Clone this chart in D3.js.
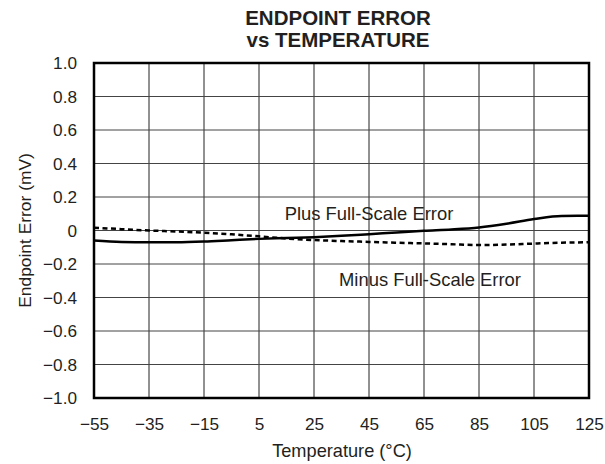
<!DOCTYPE html>
<html><head><meta charset="utf-8">
<script src="https://cdn.jsdelivr.net/npm/d3@7"></script>
<style>body{margin:0;background:#fff}svg{display:block}text{font-family:"Liberation Sans",Arial,sans-serif;fill:#231f20}</style>
</head><body>
<script>
const temps = [-55,-45,-35,-25,-15,-5,5,15,25,35,45,55,65,75,85,95,105,115,125];
const plusErr =  [-0.06,-0.068,-0.07,-0.07,-0.066,-0.058,-0.05,-0.045,-0.04,-0.032,-0.022,-0.012,-0.002,0.006,0.018,0.04,0.068,0.087,0.088];
const minusErr = [0.017,0.008,0.0,-0.006,-0.013,-0.023,-0.035,-0.048,-0.057,-0.063,-0.068,-0.073,-0.077,-0.082,-0.087,-0.084,-0.078,-0.073,-0.07];
const xTicks = [-55,-35,-15,5,25,45,65,85,105,125];
const yTicks = [1.0,0.8,0.6,0.4,0.2,0,-0.2,-0.4,-0.6,-0.8,-1.0];

const W=605,H=464, L=94,R=589,T=63,B=398;
const svg=d3.select("body").append("svg").attr("width",W).attr("height",H);
const x=d3.scaleLinear().domain([-55,125]).range([L,R]);
const y=d3.scaleLinear().domain([-1,1]).range([B,T]);
const fmtY=v=>v===0?"0":(v<0?"\u2212":"")+Math.abs(v).toFixed(1);
const fmtX=v=>(v<0?"\u2212":"")+Math.abs(v);

// grid
svg.append("g").selectAll("line").data(xTicks.slice(1,-1)).join("line")
 .attr("x1",d=>x(d)).attr("x2",d=>x(d)).attr("y1",T).attr("y2",B).attr("stroke","#222").attr("stroke-width",1);
svg.append("g").selectAll("line").data(yTicks.slice(1,-1)).join("line")
 .attr("y1",d=>y(d)).attr("y2",d=>y(d)).attr("x1",L).attr("x2",R).attr("stroke","#444").attr("stroke-width",1);

// axes
const xa=svg.append("g").attr("transform",`translate(0,${B})`).call(d3.axisBottom(x).tickValues(xTicks).tickFormat(fmtX).tickSize(0).tickPadding(20));
const ya=svg.append("g").attr("transform",`translate(${L},0)`).call(d3.axisLeft(y).tickValues(yTicks).tickFormat(fmtY).tickSize(0).tickPadding(17));
[xa,ya].forEach(a=>{a.select(".domain").remove();a.selectAll("text").attr("font-size",17.2).attr("font-family","Liberation Sans, Arial, sans-serif").attr("fill","#231f20");});

svg.append("rect").attr("x",L).attr("y",T).attr("width",R-L).attr("height",B-T).attr("fill","none").attr("stroke","#000").attr("stroke-width",2.5);

const line=d3.line().x((d,i)=>x(temps[i])).y(d=>y(d)).curve(d3.curveMonotoneX);
svg.append("path").datum(plusErr).attr("d",line).attr("fill","none").attr("stroke","#000").attr("stroke-width",2.5);
svg.append("path").datum(minusErr).attr("d",line).attr("fill","none").attr("stroke","#000").attr("stroke-width",2.5).attr("stroke-dasharray","5,3.5");

// labels
svg.append("text").attr("x",369).attr("y",220).attr("text-anchor","middle").attr("font-size",18.4).text("Plus Full-Scale Error");
svg.append("text").attr("x",430).attr("y",286).attr("text-anchor","middle").attr("font-size",18.4).text("Minus Full-Scale Error");

svg.append("text").attr("x",338).attr("y",25).attr("text-anchor","middle").attr("font-size",20.5).attr("font-weight","bold").text("ENDPOINT ERROR");
svg.append("text").attr("x",338).attr("y",47).attr("text-anchor","middle").attr("font-size",20.5).attr("font-weight","bold").text("vs TEMPERATURE");
svg.append("text").attr("x",342).attr("y",457).attr("text-anchor","middle").attr("font-size",18.2).text("Temperature (\u00b0C)");
svg.append("text").attr("transform",`translate(31,${(T+B)/2}) rotate(-90)`).attr("text-anchor","middle").attr("font-size",17.4).text("Endpoint Error (mV)");
</script>
</body></html>
